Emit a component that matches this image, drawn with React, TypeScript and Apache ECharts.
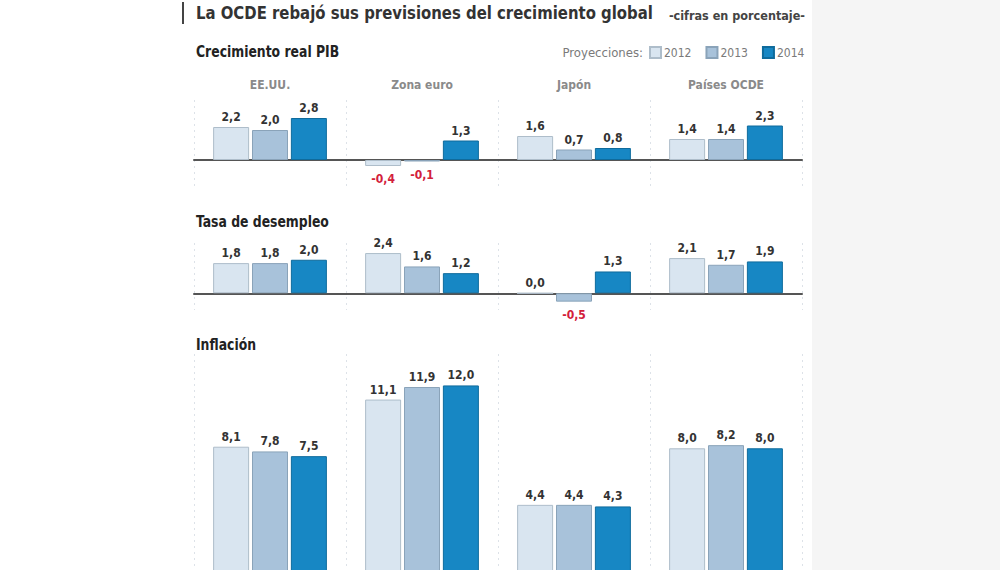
import React, { useEffect, useRef } from "react";
import * as echarts from "echarts";

// Country groups and projection years
const categories = ["EE.UU.", "Zona euro", "Japón", "Países OCDE"];
const years = ["2012", "2013", "2014"];

// Crecimiento real PIB (%)
const pib2012 = [2.2, -0.4, 1.6, 1.4];
const pib2013 = [2.0, -0.1, 0.7, 1.4];
const pib2014 = [2.8, 1.3, 0.8, 2.3];

// Tasa de desempleo (%)
const desempleo2012 = [1.8, 2.4, 0.0, 2.1];
const desempleo2013 = [1.8, 1.6, -0.5, 1.7];
const desempleo2014 = [2.0, 1.2, 1.3, 1.9];

// Inflación (%)
const inflacion2012 = [8.1, 11.1, 4.4, 8.0];
const inflacion2013 = [7.8, 11.9, 4.4, 8.2];
const inflacion2014 = [7.5, 12.0, 4.3, 8.0];

const FONT =
  "'Liberation Sans Narrow', 'DejaVu Sans Condensed', 'Roboto Condensed', 'Liberation Sans', sans-serif";

const yearStyles = [
  { color: "#d9e5f0", borderColor: "#aebdca", borderWidth: 1 },
  { color: "#a8c2da", borderColor: "#8aa3b9", borderWidth: 1 },
  { color: "#1787c4", borderColor: "#0f6b9c", borderWidth: 1 },
];

const fmt = (v: number) => v.toFixed(1).replace(".", ",");

function makeSeries(
  values: number[][],
  xAxisIndex: number,
  yAxisIndex: number
) {
  return values.map((vals, i) => ({
    type: "bar",
    name: years[i],
    xAxisIndex,
    yAxisIndex,
    barWidth: 36,
    barGap: "8%",
    itemStyle: yearStyles[i],
    label: {
      show: true,
      position: "top",
      distance: 4,
      fontFamily: FONT,
      fontWeight: "bold",
      fontSize: 12,
      color: "#333",
      formatter: (p: any) => fmt(p.value),
    },
    data: vals.map((v) =>
      v < 0
        ? { value: v, label: { position: "bottom", color: "#d3213b", distance: 7 } }
        : { value: v }
    ),
  }));
}

function categoryAxis(gridIndex: number, showLine: boolean) {
  return {
    type: "category",
    gridIndex,
    data: categories,
    axisLine: { show: showLine, onZero: true, lineStyle: { color: "#555", width: 2 } },
    axisTick: { show: false },
    axisLabel: { show: false },
    splitLine: {
      show: true,
      interval: 0,
      lineStyle: { color: "#dde2e8", width: 1, type: [2, 4] },
    },
  };
}

function heading(text: string, y: number) {
  return {
    type: "text",
    x: 196,
    y,
    scaleX: 0.92,
    style: {
      text,
      fontFamily: FONT,
      fontSize: 15,
      fontWeight: "bold",
      fill: "#222",
      verticalAlign: "middle",
    },
  };
}

export default function App() {
  const ref = useRef<HTMLDivElement>(null);

  useEffect(() => {
    if (!ref.current) return;
    const chart = echarts.init(ref.current, null, { renderer: "svg" });
    const gridLeft = 194;
    const gridWidth = 608;

    chart.setOption({
      animation: false,
      backgroundColor: "#ffffff",
      grid: [
        { left: gridLeft, width: gridWidth, top: 100, height: 90 },
        { left: gridLeft, width: gridWidth, top: 243, height: 67 },
        { left: gridLeft, width: gridWidth, top: 354, height: 220 },
      ],
      xAxis: [
        categoryAxis(0, true),
        {
          type: "category",
          gridIndex: 0,
          position: "top",
          data: categories,
          axisLine: { show: false },
          axisTick: { show: false },
          splitLine: { show: false },
          axisLabel: {
            show: true,
            margin: 9,
            fontFamily: FONT,
            fontWeight: "bold",
            fontSize: 12,
            color: "#8a8a8a",
          },
        },
        categoryAxis(1, true),
        categoryAxis(2, false),
      ],
      yAxis: [
        { type: "value", gridIndex: 0, min: -2, max: 4, show: false },
        { type: "value", gridIndex: 1, min: -1, max: 3, show: false },
        { type: "value", gridIndex: 2, min: 0, max: 14, show: false },
      ],
      legend: {
        data: years,
        left: 649,
        top: 46,
        icon: "rect",
        itemWidth: 11,
        itemHeight: 11,
        itemGap: 14,
        padding: 0,
        textStyle: { fontFamily: FONT, fontSize: 12, color: "#7a7a7a", padding: [0, 0, 0, -2] },
      },
      graphic: [
        {
          type: "rect",
          z: -10,
          shape: { x: 812, y: 0, width: 188, height: 600 },
          style: { fill: "#f5f5f5" },
        },
        {
          type: "rect",
          shape: { x: 182, y: 2, width: 2, height: 22 },
          style: { fill: "#444" },
        },
        {
          type: "text",
          x: 196,
          y: 13,
          scaleX: 0.92,
          style: {
            text: "La OCDE rebajó sus previsiones del crecimiento global",
            fontFamily: FONT,
            fontSize: 18,
            fontWeight: "bold",
            fill: "#333",
            verticalAlign: "middle",
          },
        },
        {
          type: "text",
          x: 805,
          y: 15,
          style: {
            text: "-cifras en porcentaje-",
            fontFamily: FONT,
            fontSize: 12.5,
            fontWeight: "bold",
            fill: "#444",
            align: "right",
            verticalAlign: "middle",
          },
        },
        heading("Crecimiento real PIB", 52),
        {
          type: "text",
          x: 643,
          y: 52,
          style: {
            text: "Proyecciones:",
            fontFamily: FONT,
            fontSize: 13,
            fill: "#7a7a7a",
            align: "right",
            verticalAlign: "middle",
          },
        },
        heading("Tasa de desempleo", 222),
        heading("Inflación", 345),
      ],
      series: [
        ...makeSeries([pib2012, pib2013, pib2014], 0, 0),
        ...makeSeries([desempleo2012, desempleo2013, desempleo2014], 2, 1),
        ...makeSeries([inflacion2012, inflacion2013, inflacion2014], 3, 2),
      ],
    });

    return () => chart.dispose();
  }, []);

  return (
    <div
      style={{
        position: "fixed",
        left: 0,
        top: 0,
        width: 1000,
        height: 570,
        overflow: "hidden",
        background: "#fff",
      }}
    >
      <div ref={ref} style={{ width: 1000, height: 600 }} />
    </div>
  );
}
